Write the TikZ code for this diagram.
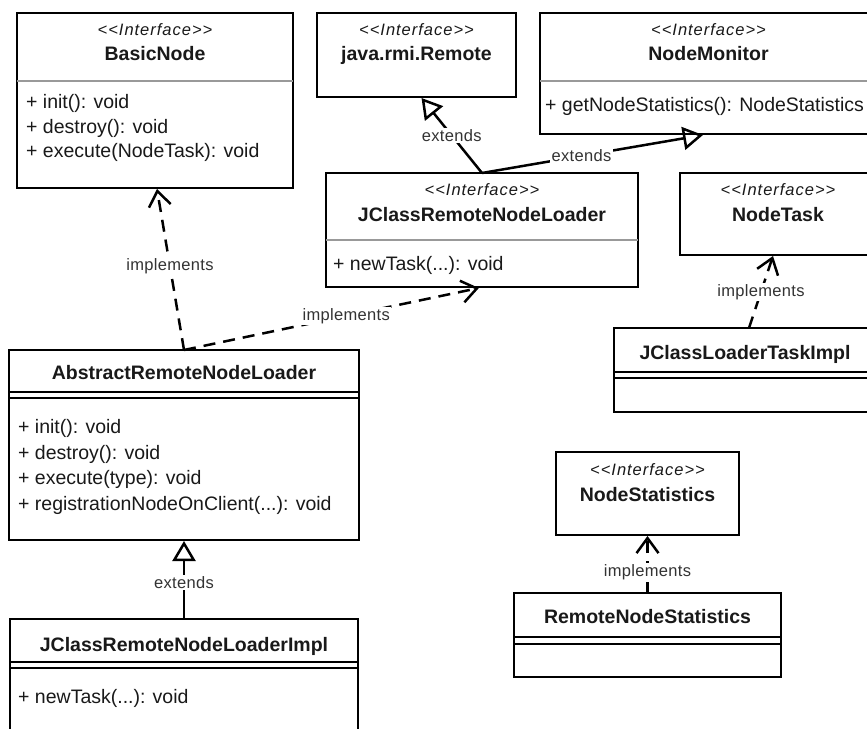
\documentclass[tikz,border=0pt]{standalone}
\usepackage{fontspec}
\setmainfont{Liberation Sans}
\usetikzlibrary{arrows.meta,calc}
% type faces for the UML class boxes
\newfontfamily\umlMemberFace{Liberation Sans}
\newfontfamily\umlStereoFace[LetterSpace=6]{Liberation Sans}
\newfontfamily\umlLabelFace[LetterSpace=2]{Liberation Sans}
\newcommand\umlMember{\umlMemberFace\fontsize{19.5}{22}\selectfont}
\newcommand\umlName{\umlMemberFace\bfseries\fontsize{19.5}{22}\selectfont}
\newcommand\umlStereo{\umlStereoFace\itshape\fontsize{16.5}{19}\selectfont}
\newcommand\umlLabel{\umlLabelFace\fontsize{16.5}{19}\selectfont}
\tikzset{
  classbox/.style={draw=black, line width=2.6pt, anchor=north west, inner sep=0pt, outer sep=0pt, fill=white},
  sepline/.style={draw=black!40, line width=1.2pt},
  dblline/.style={draw=black, line width=2pt},
  stereo/.style={font=\umlStereo, anchor=base, inner sep=0pt, text=black!90},
  cname/.style={font=\umlName, anchor=base, inner sep=0pt, text=black!90},
  member/.style={font=\umlMember, anchor=base west, inner sep=0pt, text=black!90},
  lbl/.style={font=\umlLabel, fill=white, inner sep=1.5pt, text=black!80},
  realize/.style={draw=black, line width=2.5pt, dash pattern=on 12pt off 8pt,
    -{Straight Barb[length=15pt,width=22pt,line width=2.5pt]}},
  generalize/.style={draw=black, line width=2.5pt,
    -{Triangle[open,length=20pt,width=23pt,line width=2.5pt]}},
}
\begin{document}
\begin{tikzpicture}[x=1pt,y=-1pt]
\clip (0,0) rectangle (867,728);
\fill[white] (0,0) rectangle (867,728);

% ---- interfaces ----
\node[classbox, minimum width=276pt, minimum height=175pt] (basic) at (17,13) {};
\node[stereo] (basicS) at (155,35) {<<Interface>>};
\node[cname] (basicN) at (155,60) {BasicNode};
\draw[sepline] ($(basic.north west)+(0,68)$) -- ($(basic.north east)+(0,68)$);
\node[member] (basicM1) at (26,108) {+ init(): void};
\node[member] (basicM2) at (26,133) {+ destroy(): void};
\node[member] (basicM3) at (26,157) {+ execute(NodeTask): void};

\node[classbox, minimum width=199pt, minimum height=84pt] (remote) at (317,13) {};
\node[stereo] (remoteS) at (416.5,35) {<<Interface>>};
\node[cname] (remoteN) at (416.5,60) {java.rmi.Remote};

\node[classbox, minimum width=337pt, minimum height=121pt] (mon) at (540,13) {};
\node[stereo] (monS) at (708.5,35) {<<Interface>>};
\node[cname] (monN) at (708.5,60) {NodeMonitor};
\draw[sepline] ($(mon.north west)+(0,68)$) -- ($(mon.north east)+(0,68)$);
\node[member] (monM1) at (545,111) {+ getNodeStatistics(): NodeStatistics};

\node[classbox, minimum width=312pt, minimum height=114pt] (jrnl) at (326,173) {};
\node[stereo] (jrnlS) at (482,195) {<<Interface>>};
\node[cname] (jrnlN) at (482,221) {JClassRemoteNodeLoader};
\draw[sepline] ($(jrnl.north west)+(0,67)$) -- ($(jrnl.north east)+(0,67)$);
\node[member] (jrnlM1) at (333,270) {+ newTask(...): void};

\node[classbox, minimum width=196pt, minimum height=82pt] (task) at (680,173) {};
\node[stereo] (taskS) at (778,195) {<<Interface>>};
\node[cname] (taskN) at (778,221) {NodeTask};

\node[classbox, minimum width=183pt, minimum height=83pt] (nstat) at (556,452) {};
\node[stereo] (nstatS) at (647.5,475) {<<Interface>>};
\node[cname] (nstatN) at (647.5,501) {NodeStatistics};

% ---- classes ----
\node[classbox, minimum width=262pt, minimum height=84pt] (ltask) at (614,328) {};
\node[cname] (ltaskN) at (745,359) {JClassLoaderTaskImpl};
\draw[dblline] ($(ltask.north west)+(0,44)$) -- ($(ltask.north east)+(0,44)$);
\draw[dblline] ($(ltask.north west)+(0,50)$) -- ($(ltask.north east)+(0,50)$);

\node[classbox, minimum width=267pt, minimum height=84pt] (rnstat) at (514,593) {};
\node[cname] (rnstatN) at (647.5,623) {RemoteNodeStatistics};
\draw[dblline] ($(rnstat.north west)+(0,44)$) -- ($(rnstat.north east)+(0,44)$);
\draw[dblline] ($(rnstat.north west)+(0,51)$) -- ($(rnstat.north east)+(0,51)$);

\node[classbox, minimum width=350pt, minimum height=190pt] (abs) at (9,350) {};
\node[cname] (absN) at (184,379) {AbstractRemoteNodeLoader};
\draw[dblline] ($(abs.north west)+(0,42)$) -- ($(abs.north east)+(0,42)$);
\draw[dblline] ($(abs.north west)+(0,48)$) -- ($(abs.north east)+(0,48)$);
\node[member] (absM1) at (18,433) {+ init(): void};
\node[member] (absM2) at (18,459) {+ destroy(): void};
\node[member] (absM3) at (18,484) {+ execute(type): void};
\node[member] (absM4) at (18,510) {+ registrationNodeOnClient(...): void};

\node[classbox, minimum width=348pt, minimum height=141pt] (impl) at (10,619) {};
\node[cname] (implN) at (184,651) {JClassRemoteNodeLoaderImpl};
\draw[dblline] ($(impl.north west)+(0,43)$) -- ($(impl.north east)+(0,43)$);
\draw[dblline] ($(impl.north west)+(0,49)$) -- ($(impl.north east)+(0,49)$);
\node[member] (implM1) at (18,703) {+ newTask(...): void};

% ---- relations ----
\draw[generalize] (jrnl.north) -- ($(remote.south)+(5,1)$)
  node[lbl, pos=0.5] {extends};
\draw[generalize] (jrnl.north) -- ($(mon.south west)+(163,1)$)
  node[lbl, pos=0.45] {extends};
\draw[realize] (abs.north) -- ($(basic.south)+(2,1)$)
  node[lbl, pos=0.52] {implements};
\draw[realize] (abs.north) -- ($(jrnl.south west)!0.49!(jrnl.south east)+(0,1)$)
  node[lbl, pos=0.55] {implements};
\draw[realize] ($(ltask.north west)+(135,0)$) -- ($(task.south west)+(93,1)$)
  node[lbl, pos=0.5] {implements};
\draw[realize] (rnstat.north) -- ($(nstat.south)+(0,1)$)
  node[lbl, pos=0.36] {implements};
\draw[generalize] (impl.north) -- ($(abs.south)+(0,1)$)
  node[lbl, pos=0.47] {extends};
\end{tikzpicture}
\end{document}
